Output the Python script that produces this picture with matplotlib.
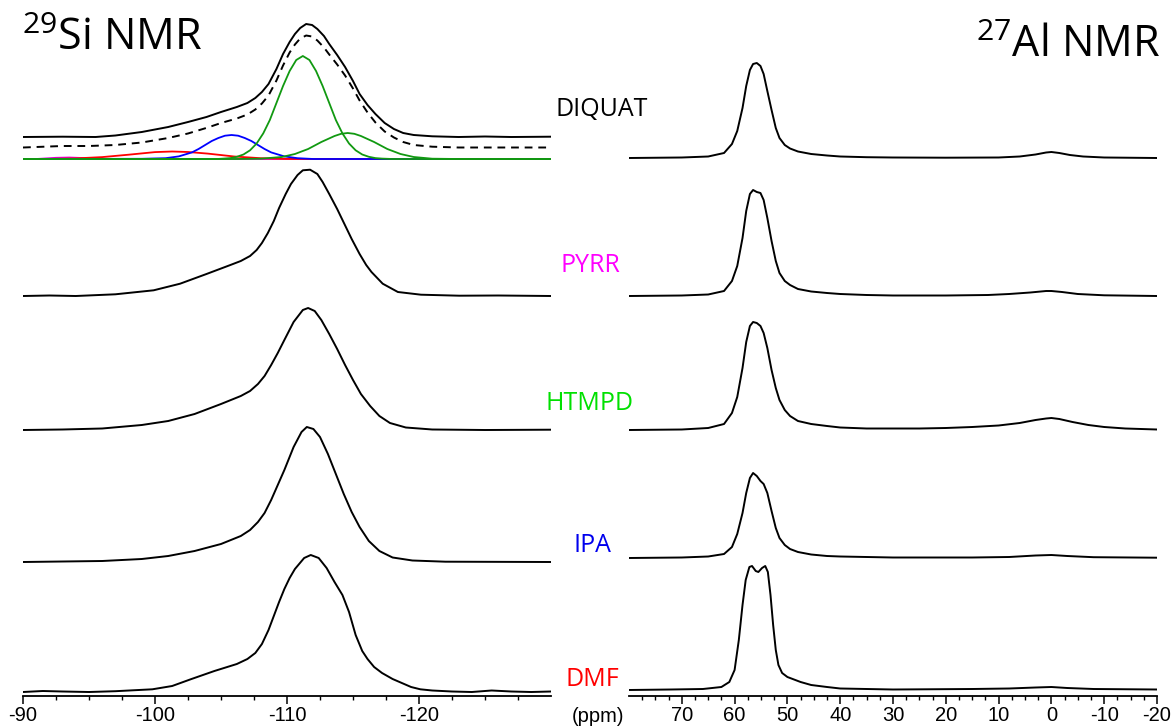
import matplotlib.pyplot as plt
from matplotlib.ticker import FixedLocator
import numpy as np

plt.rcParams['mathtext.fontset'] = 'custom'
plt.rcParams['mathtext.rm'] = 'Open Sans'

# 29Si spectra: (ppm, intensity) pairs
si_diquat = [[-90, 0], [-93, 0.3], [-95.5, 0], [-97, 1.5], [-99, 5], [-101, 10], [-102.5, 15], [-103.9, 20],
             [-105, 25], [-106.2, 30], [-107, 34], [-107.6, 39], [-108.1, 45], [-108.6, 53], [-109.2, 68],
             [-109.7, 83], [-110.2, 95], [-110.6, 103], [-111, 109], [-111.45, 113], [-111.9, 112],
             [-112.3, 108], [-112.8, 101], [-113.2, 93], [-113.8, 82], [-114.4, 70], [-115, 56], [-115.5, 43],
             [-116.1, 32], [-116.7, 23], [-117.4, 14], [-118.1, 8], [-118.8, 4], [-119.6, 2], [-121, 0.7],
             [-123, 0], [-125, 0.5], [-127, 0], [-130, 0.3]]
si_diquat_fit = [[-90, 0], [-93, 1.5], [-95, 1.5], [-97, 2.5], [-99, 5], [-101, 9.5], [-102.5, 14], [-104, 20],
                 [-105, 24.5], [-106.2, 29], [-107, 33], [-107.6, 38], [-108.1, 44], [-108.6, 52], [-109.2, 67],
                 [-109.7, 82], [-110.2, 95], [-110.6, 103], [-111, 109], [-111.45, 112], [-111.9, 111],
                 [-112.3, 107], [-112.8, 100], [-113.2, 93], [-113.8, 83], [-114.4, 72], [-115, 59], [-115.5, 47],
                 [-116.1, 35], [-116.7, 25], [-117.4, 16], [-118.1, 10], [-118.8, 5.5], [-119.6, 2.5],
                 [-121, 0.8], [-123, 0], [-130, 0]]
# deconvolution components
fit_q2 = [[-90, 0], [-91, 0], [-92.5, 1.2], [-93.5, 1.5], [-94.5, 1.0], [-96, 0], [-130, 0]]
fit_q3a = [[-90, 0], [-92, 0.1], [-94, 0.6], [-96, 1.9], [-98, 4.3], [-100, 6.9], [-101.3, 7.5], [-102.5, 7],
           [-104, 5.4], [-106, 2.5], [-108, 0.8], [-110, 0.1], [-112, 0], [-130, 0]]
fit_q3b = [[-90, 0], [-99, 0.2], [-100.8, 0.8], [-101.8, 2.6], [-102.8, 6.6], [-103.3, 10], [-103.8, 14],
           [-104.3, 18], [-104.8, 21], [-105.3, 23.3], [-105.8, 24], [-106.3, 23.3], [-106.8, 21],
           [-107.3, 18], [-107.8, 14], [-108.3, 10], [-108.8, 6.6], [-109.8, 2.6], [-110.8, 0.8], [-112, 0],
           [-130, 0]]
fit_q4a = [[-90, 0], [-104.7, 0], [-105.2, 0.4], [-105.7, 0.9], [-106.2, 2.2], [-106.7, 4.5], [-107.2, 8.7],
           [-107.7, 15.5], [-108.2, 25.6], [-108.7, 39], [-109.2, 56], [-109.7, 73], [-110.2, 88], [-110.7, 99],
           [-111.2, 103], [-111.7, 99], [-112.2, 88], [-112.7, 73], [-113.2, 56], [-113.7, 39], [-114.2, 25.6],
           [-114.7, 15.5], [-115.2, 8.7], [-115.7, 4.5], [-116.2, 2.2], [-116.7, 0.9], [-117.2, 0.4],
           [-118, 0], [-130, 0]]
fit_q4b = [[-90, 0], [-106, 0], [-108, 0.3], [-109.6, 2], [-110.6, 5], [-111.6, 10], [-112.6, 17], [-113.6, 23],
           [-114.1, 25.2], [-114.6, 26], [-115.1, 25.2], [-115.6, 23], [-116.6, 17], [-117.6, 10], [-118.6, 5],
           [-119.6, 2], [-121, 0.3], [-123, 0], [-130, 0]]
si_pyrr = [[-90, 0], [-92, 0.5], [-94, 0], [-97, 1.7], [-99.9, 5.7], [-101.9, 12.3], [-103.9, 22], [-105.65, 30.7],
           [-106.5, 35], [-107.2, 40], [-107.7, 46], [-108.1, 53], [-108.55, 63], [-109, 75], [-109.4, 88],
           [-109.9, 102], [-110.3, 112], [-110.8, 121], [-111.2, 125.7], [-111.75, 126.3], [-112.3, 122],
           [-112.7, 114], [-113.2, 102], [-113.8, 87], [-114.35, 72], [-114.9, 57], [-115.5, 42], [-116, 31],
           [-116.4, 24], [-117.25, 12.3], [-118.4, 4], [-120.15, 1.3], [-123.05, 0.3], [-126, 0.5], [-130, 0]]
si_htmpd = [[-90, 0], [-93, 0.5], [-96, 1.5], [-99, 5], [-101, 9], [-103, 16], [-105, 26], [-106.5, 34],
            [-107.2, 39], [-107.8, 46], [-108.3, 54], [-108.8, 65], [-109.3, 77], [-109.8, 90], [-110.5, 108],
            [-111.2, 120], [-111.6, 122], [-112.1, 119], [-112.6, 110], [-113.2, 96], [-113.8, 81],
            [-114.4, 65], [-115, 50], [-115.6, 36], [-116.3, 24], [-117, 14], [-117.8, 7], [-119, 2.5],
            [-121, 0.5], [-125, 0], [-130, 0.3]]
si_ipa = [[-90, 0], [-93, 0.5], [-96, 1], [-99, 3], [-101, 6], [-103, 11], [-105, 18], [-106.5, 26], [-107.2, 32],
          [-107.8, 40], [-108.3, 49], [-108.8, 62], [-109.3, 77], [-109.8, 92], [-110.5, 115], [-111.1, 130],
          [-111.5, 135], [-112, 133], [-112.5, 125], [-113.1, 108], [-113.7, 88], [-114.3, 68], [-114.9, 50],
          [-115.5, 35], [-116.2, 21], [-117, 11], [-118, 4.5], [-119.5, 1.5], [-122, 0.3], [-130, 0]]
si_dmf = [[-90, 0], [-91.5, 1], [-93, 0.5], [-95, 0], [-97, 0.8], [-99.8, 2.7], [-101.3, 6], [-102.7, 12.7],
          [-104.5, 21], [-106.2, 28], [-107, 33], [-107.6, 39], [-108.1, 48], [-108.6, 62], [-109, 76],
          [-109.4, 90], [-109.8, 103], [-110.2, 114], [-110.6, 123], [-111.3, 134], [-111.8, 137],
          [-112.4, 134], [-113, 124], [-113.6, 110], [-114.2, 97], [-114.7, 80], [-115.2, 57], [-115.7, 41],
          [-116.1, 33], [-116.6, 25], [-117.2, 19], [-118, 13], [-118.7, 9], [-119.4, 5], [-120.1, 2.7],
          [-121, 1.5], [-122.5, 0.5], [-124, 0], [-125.5, 1.5], [-127, 0.5], [-128.5, 0], [-130, 0.5]]

# 27Al spectra: (ppm, intensity) pairs
al_diquat = [[80, 0], [70, 0.5], [65, 1.5], [62, 5], [60.5, 14], [59.5, 27], [58.5, 50], [57.8, 72], [57.1, 88],
             [56.5, 94], [55.8, 95], [55.1, 92], [54.5, 84], [53.8, 67], [53, 48], [52.2, 30], [51.5, 20],
             [50.5, 13], [49.5, 9.5], [48, 6.5], [45.5, 4], [42.5, 2.5], [40, 1.5], [35, 0.8], [30, 0.5],
             [20, 0.3], [10, 0.5], [6, 1.5], [3, 3.5], [1, 5.5], [0, 6], [-1.5, 5], [-3.5, 3], [-6, 1.5],
             [-10, 0.5], [-20, 0]]
al_pyrr = [[80, 0], [70, 0.5], [65, 1.5], [62, 5], [60.5, 15], [59.5, 30], [58.5, 58], [57.8, 85], [57.1, 102],
           [56.5, 106], [55.8, 104], [55.1, 103], [54.5, 96], [53.8, 78], [53, 55], [52.2, 35], [51.5, 23],
           [50.5, 15], [49.5, 11], [48, 7], [45.5, 4.5], [42.5, 3], [40, 2], [35, 1], [30, 0.5], [20, 0.5],
           [12, 1], [8, 2], [4, 3.5], [1, 5], [0, 5], [-2, 4], [-5, 2], [-10, 0.7], [-20, 0]]
al_htmpd = [[80, 0], [70, 0.5], [65, 2], [62, 6], [60.5, 17], [59.5, 33], [58.5, 62], [57.8, 88], [57.1, 104],
            [56.5, 108], [55.8, 107], [55.1, 104], [54.5, 97], [53.8, 82], [53, 60], [52.2, 42], [51.5, 30],
            [50.5, 20], [49.5, 14], [48, 9], [45.5, 6], [42.5, 4], [40, 2.5], [35, 1.5], [30, 1.5], [25, 1.5],
            [20, 2], [15, 3], [10, 4.5], [6, 7], [3, 10], [1, 11.5], [0, 12], [-1.5, 11], [-4, 8], [-7, 5],
            [-10, 3], [-14, 1.5], [-20, 0.5]]
al_ipa = [[80, 0], [70, 0.5], [65, 1.5], [62, 4], [60.5, 11], [59.5, 24], [58.5, 45], [57.8, 65], [57.1, 80],
          [56.5, 85], [55.8, 82], [55.1, 77], [54.5, 74], [53.8, 65], [53, 47], [52.2, 30], [51.5, 20],
          [50.5, 13], [49.5, 9], [48, 6], [45.5, 3.5], [42.5, 2], [40, 1.5], [30, 0.5], [15, 0.5], [8, 1],
          [3, 2.5], [0, 3], [-3, 2], [-8, 0.8], [-20, 0.3]]
al_dmf = [[80, 0], [72, 0.5], [66, 1], [62.5, 3], [61, 8], [60, 20], [59.2, 50], [58.5, 85], [57.9, 110],
          [57.2, 123], [56.7, 124], [56, 119], [55.5, 118], [54.8, 122], [54.2, 124], [53.7, 118], [53.2, 95],
          [52.7, 65], [52.2, 40], [51.7, 25], [51, 17], [50, 13], [49, 11], [47.5, 8], [45.5, 5], [42.5, 3],
          [40, 1.5], [30, 0.5], [15, 1], [8, 1.5], [3, 2.5], [0, 3], [-3, 2], [-8, 1], [-20, 0.5]]

samples = ['DIQUAT', 'PYRR', 'HTMPD', 'IPA', 'DMF']
sample_colors = ['black', '#ff00ff', '#00e000', '#0000ee', '#ff0000']

si_ticks = [-90, -100, -110, -120]
si_tick_labels = ['-90', '-100', '-110', '-120']
al_ticks = [70, 60, 50, 40, 30, 20, 10, 0, -10, -20]
al_tick_labels = ['70', '60', '50', '40', '30', '20', '10', '0', '-10', '-20']

# vertical stacking (pixels above the axis line)
si_offsets = [559, 400, 266, 134, 4]
al_offsets = [538, 400, 266, 138, 6]
fit_offset_dashed = 548.5
fit_offset_parts = 537

W, H = 1174, 728
fig = plt.figure(figsize=(W / 100, H / 100), dpi=100)
ax1 = fig.add_axes([23 / W, 32 / H, 528 / W, 696 / H])
ax2 = fig.add_axes([629 / W, 32 / H, 528 / W, 696 / H])


def trace(ax, data, off, **kw):
    d = np.array(data, dtype=float)
    ax.plot(d[:, 0], d[:, 1] + off, solid_joinstyle='round', **kw)


si_data = [si_diquat, si_pyrr, si_htmpd, si_ipa, si_dmf]
al_data = [al_diquat, al_pyrr, al_htmpd, al_ipa, al_dmf]

for d, off in zip(si_data, si_offsets):
    trace(ax1, d, off, color='black', lw=1.4)
trace(ax1, si_diquat_fit, fit_offset_dashed, color='black', lw=1.4, ls=(0, (4, 3)))
trace(ax1, fit_q2, fit_offset_parts, color='#e000e0', lw=1.3)
trace(ax1, fit_q3a, fit_offset_parts, color='#ff0000', lw=1.3)
trace(ax1, fit_q3b, fit_offset_parts, color='#0000ff', lw=1.3)
trace(ax1, fit_q4b, fit_offset_parts, color='#119911', lw=1.3)
trace(ax1, fit_q4a, fit_offset_parts, color='#119911', lw=1.3)

for d, off in zip(al_data, al_offsets):
    trace(ax2, d, off, color='black', lw=1.4)

for ax, lim, ticks, labels, minor in [
        (ax1, (-90, -130), si_ticks, si_tick_labels, np.arange(-92.5, -129, -2.5)),
        (ax2, (80, -20), al_ticks, al_tick_labels, np.arange(77.5, -19, -2.5))]:
    ax.set_xlim(*lim)
    ax.set_ylim(0, 696)
    ax.patch.set_alpha(0)
    for s in ['top', 'left', 'right']:
        ax.spines[s].set_visible(False)
    ax.spines['bottom'].set_linewidth(1.3)
    ax.set_yticks([])
    ax.xaxis.set_major_locator(FixedLocator(ticks))
    ax.set_xticklabels(labels, fontsize=14.5, family='Liberation Sans')
    ax.xaxis.set_minor_locator(FixedLocator(minor))
    ax.tick_params(axis='x', which='major', direction='out', length=5.5, width=1.1, pad=2)
    ax.tick_params(axis='x', which='minor', direction='out', length=3, width=1.0)

fig.text(598 / W, 1 - 716 / H, '(ppm)', ha='center', va='center', fontsize=14.5, family='Liberation Sans')

fig.text(22 / W, 1 - 50 / H, r'$^{\mathrm{29}}$Si NMR', ha='left', va='baseline', fontsize=31, family='Open Sans')
fig.text(1160 / W, 1 - 57 / H, r'$^{\mathrm{27}}$Al NMR', ha='right', va='baseline', fontsize=31, family='Open Sans')

label_x = [602, 590, 590, 592, 592]
label_y = [110, 265, 403, 545, 680]
for name, c, x, y in zip(samples, sample_colors, label_x, label_y):
    fig.text(x / W, 1 - y / H, name, ha='center', va='center', fontsize=18, color=c, family='Open Sans')

fig.savefig('out.png', dpi=100)
